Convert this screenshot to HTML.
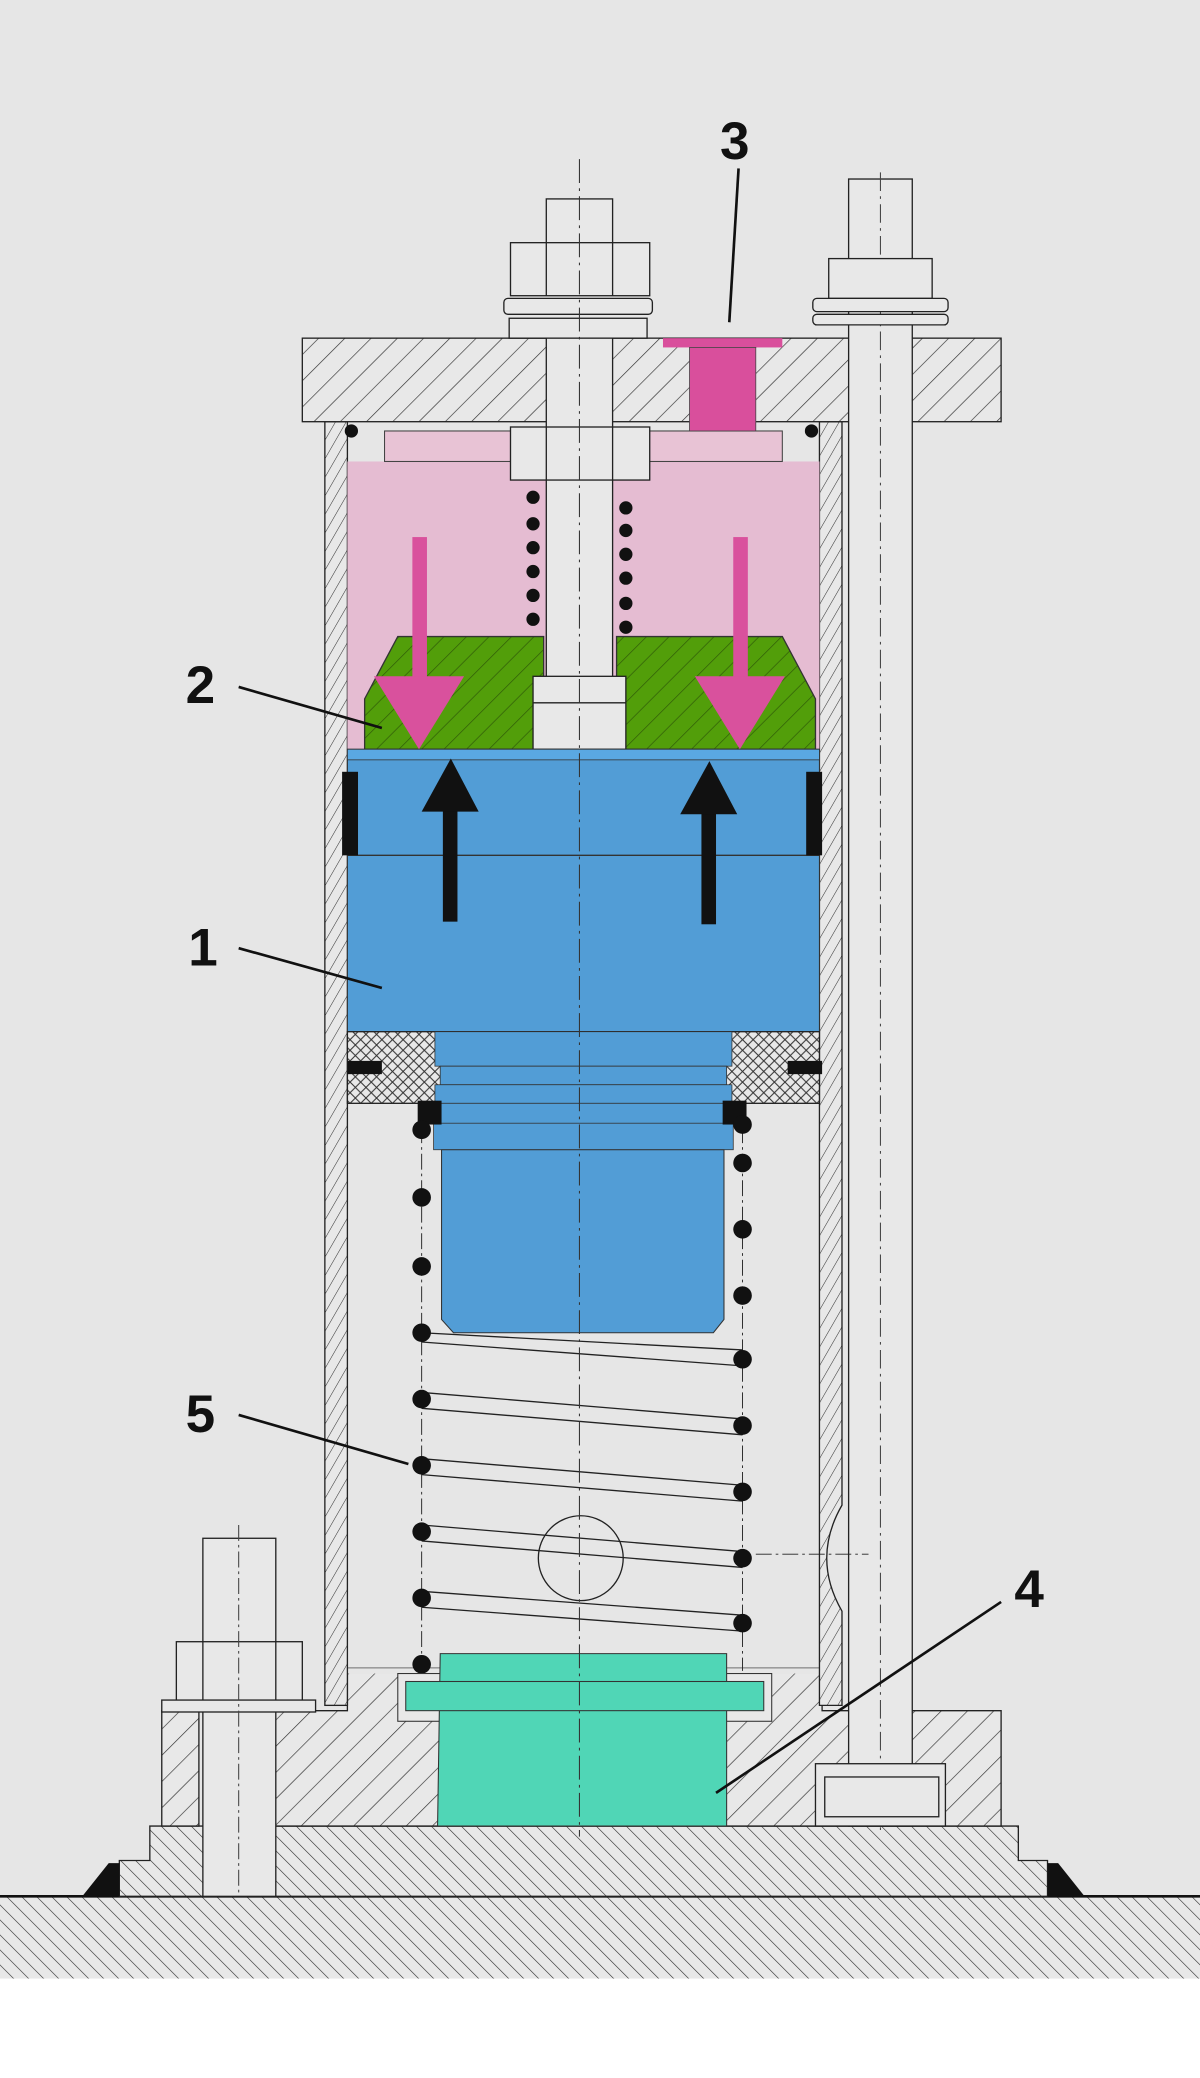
<!DOCTYPE html>
<html><head><meta charset="utf-8"><style>
html,body{margin:0;padding:0;background:#fff;}
svg{display:block;}
text{font-family:"Liberation Sans",sans-serif;font-weight:bold;font-size:40px;fill:#111;}
</style></head><body>
<svg width="1200" height="2078" viewBox="0 0 905 1567" preserveAspectRatio="none" xmlns="http://www.w3.org/2000/svg">
<defs>
<pattern id="h" width="14" height="14" patternUnits="userSpaceOnUse" patternTransform="rotate(45)"><rect width="14" height="14" fill="#e8e8e8"/><line x1="0" y1="0" x2="0" y2="14" stroke="#333" stroke-width="1"/></pattern>
<pattern id="h2" width="8" height="8" patternUnits="userSpaceOnUse" patternTransform="rotate(-45)"><rect width="8" height="8" fill="#e8e8e8"/><line x1="0" y1="0" x2="0" y2="8" stroke="#333" stroke-width="0.9"/></pattern>
<pattern id="hs" width="7" height="7" patternUnits="userSpaceOnUse" patternTransform="rotate(30)"><rect width="7" height="7" fill="#e8e8e8"/><line x1="0" y1="0" x2="0" y2="7" stroke="#333" stroke-width="0.8"/></pattern>
<pattern id="hg" width="12" height="12" patternUnits="userSpaceOnUse" patternTransform="rotate(45)"><rect width="12" height="12" fill="#529e0a"/><line x1="0" y1="0" x2="0" y2="12" stroke="#2f5a08" stroke-width="1"/></pattern>
<pattern id="hx" width="8" height="8" patternUnits="userSpaceOnUse"><rect width="8" height="8" fill="#e8e8e8"/><path d="M0 0L8 8M8 0L0 8" stroke="#333" stroke-width="0.8"/></pattern>
</defs>
<rect width="905" height="1492" fill="#e6e6e6"/>
<rect y="1492" width="905" height="75" fill="#fff"/>
<!-- ground -->
<rect x="0" y="1430" width="905" height="62" fill="url(#h2)"/>
<line x1="0" y1="1430" x2="905" y2="1430" stroke="#111" stroke-width="2"/>
<!-- base plate -->
<path d="M90 1430V1403H113V1377H768V1403H790V1430Z" fill="url(#h2)" stroke="#222"/>
<polygon points="62,1430 82,1405 90,1405 90,1430" fill="#111"/>
<polygon points="818,1430 798,1405 790,1405 790,1430" fill="#111"/>
<!-- bottom block -->
<path d="M165 1377V1290H262V1258H620V1290H755V1377Z" fill="url(#h)" stroke="#222"/>
<rect x="262" y="1258" width="358" height="4" fill="#e6e6e6"/>
<!-- left bolt -->
<rect x="122" y="1290" width="28" height="87" fill="url(#h)" stroke="#222"/>
<rect x="153" y="1160" width="55" height="270" fill="#e8e8e8" stroke="#222"/>
<rect x="133" y="1238" width="95" height="45" fill="#e8e8e8" stroke="#222"/>
<line x1="153" y1="1238" x2="153" y2="1283" stroke="#222"/><line x1="208" y1="1238" x2="208" y2="1283" stroke="#222"/>
<rect x="122" y="1282" width="116" height="9" fill="#e8e8e8" stroke="#222"/>
<line x1="180" y1="1150" x2="180" y2="1430" stroke="#444" stroke-dasharray="12,3,2,3" stroke-width="0.8"/>
<!-- cylinder walls -->
<rect x="245" y="318" width="17" height="968" fill="url(#hs)" stroke="#222"/>
<path d="M618 318H635V1135Q612 1175 635 1215V1286H618Z" fill="url(#hs)" stroke="#222"/>
<!-- top plate -->
<rect x="228" y="255" width="527" height="63" fill="url(#h)" stroke="#222"/>
<rect x="613" y="230" width="4" height="25" fill="none"/>
<!-- pink chamber -->
<rect x="262" y="348" width="356" height="217" fill="#e5bcd2"/>
<rect x="290" y="325" width="300" height="23" fill="#e8c3d5" stroke="#444" stroke-width="0.8"/>
<circle cx="265" cy="325" r="5" fill="#111"/><circle cx="612" cy="325" r="5" fill="#111"/>
<!-- port 3 -->
<rect x="500" y="255" width="90" height="7" fill="#d94f9c"/>
<rect x="520" y="262" width="50" height="63" fill="#d94f9c" stroke="#444" stroke-width="0.6"/>
<!-- right tie rod -->
<rect x="640" y="135" width="48" height="1242" fill="#e8e8e8" stroke="#222"/>
<line x1="664" y1="130" x2="664" y2="1380" stroke="#444" stroke-dasharray="14,4,2,4" stroke-width="0.8"/>
<rect x="625" y="195" width="78" height="30" fill="#e8e8e8" stroke="#222"/>
<rect x="613" y="225" width="102" height="10" rx="3" fill="#e8e8e8" stroke="#222"/>
<rect x="613" y="237" width="102" height="8" rx="3" fill="#e8e8e8" stroke="#222"/>
<rect x="615" y="1330" width="98" height="47" fill="#e8e8e8" stroke="#222"/>
<rect x="622" y="1340" width="86" height="30" fill="#e8e8e8" stroke="#222"/>
<!-- center stem -->
<rect x="412" y="150" width="50" height="35" fill="#e8e8e8" stroke="#222"/>
<rect x="385" y="183" width="105" height="40" fill="#e8e8e8" stroke="#222"/>
<line x1="412" y1="183" x2="412" y2="223" stroke="#222"/><line x1="462" y1="183" x2="462" y2="223" stroke="#222"/>
<rect x="380" y="225" width="112" height="12" rx="3" fill="#e8e8e8" stroke="#222"/>
<rect x="384" y="240" width="104" height="15" fill="#e8e8e8" stroke="#222"/>
<rect x="412" y="255" width="50" height="260" fill="#e8e8e8" stroke="#222"/>
<rect x="385" y="322" width="105" height="40" fill="#e8e8e8" stroke="#222"/>
<line x1="412" y1="322" x2="412" y2="362" stroke="#222"/><line x1="462" y1="322" x2="462" y2="362" stroke="#222"/>
<!-- small spring dots -->
<g fill="#111">
<circle cx="402" cy="375" r="5"/><circle cx="402" cy="395" r="5"/><circle cx="402" cy="413" r="5"/><circle cx="402" cy="431" r="5"/><circle cx="402" cy="449" r="5"/><circle cx="402" cy="467" r="5"/>
<circle cx="472" cy="383" r="5"/><circle cx="472" cy="400" r="5"/><circle cx="472" cy="418" r="5"/><circle cx="472" cy="436" r="5"/><circle cx="472" cy="455" r="5"/><circle cx="472" cy="473" r="5"/>
</g>
<!-- green piston -->
<path d="M275 565V527L300 480H410V565Z" fill="url(#hg)" stroke="#333"/>
<path d="M465 565V480H590L615 527V565Z" fill="url(#hg)" stroke="#333"/>
<rect x="402" y="510" width="70" height="55" fill="#e8e8e8" stroke="#222"/>
<line x1="402" y1="530" x2="472" y2="530" stroke="#222"/>
<!-- blue piston -->
<rect x="262" y="565" width="356" height="213" fill="#529dd6" stroke="#333" stroke-width="0.8"/>
<rect x="262" y="565" width="356" height="8" fill="#5aa8e2" stroke="#333" stroke-width="0.6"/>
<line x1="262" y1="645" x2="618" y2="645" stroke="#333"/>
<rect x="258" y="582" width="12" height="63" fill="#111"/><rect x="608" y="582" width="12" height="63" fill="#111"/>
<!-- gland -->
<rect x="262" y="778" width="356" height="54" fill="url(#hx)" stroke="#222"/>
<rect x="262" y="800" width="26" height="10" fill="#111"/><rect x="594" y="800" width="26" height="10" fill="#111"/>
<rect x="328" y="778" width="224" height="26" fill="#529dd6" stroke="#333" stroke-width="0.6"/>
<rect x="332" y="804" width="216" height="14" fill="#529dd6" stroke="#333" stroke-width="0.6"/>
<rect x="328" y="818" width="224" height="14" fill="#529dd6" stroke="#333" stroke-width="0.6"/>
<rect x="330" y="832" width="218" height="18" fill="#529dd6" stroke="#333" stroke-width="0.6"/>
<rect x="327" y="847" width="226" height="20" fill="#529dd6" stroke="#333" stroke-width="0.6"/>
<path d="M333 867H546V995L538 1005H342L333 995Z" fill="#529dd6" stroke="#333" stroke-width="0.8"/>
<rect x="315" y="830" width="18" height="18" fill="#111"/><rect x="545" y="830" width="18" height="18" fill="#111"/>
<!-- main spring -->
<g stroke="#222" stroke-width="1" fill="none">
<path d="M318 1005L560 1018M318 1012L560 1030"/>
<path d="M318 1050L560 1070M318 1062L560 1082"/>
<path d="M318 1100L560 1120M318 1112L560 1132"/>
<path d="M318 1150L560 1170M318 1162L560 1182"/>
<path d="M318 1200L560 1218M318 1212L560 1230"/>
<line x1="318" y1="850" x2="318" y2="1260" stroke-dasharray="12,3,2,3" stroke-width="0.7"/>
<line x1="560" y1="850" x2="560" y2="1260" stroke-dasharray="12,3,2,3" stroke-width="0.7"/>
<circle cx="438" cy="1175" r="32"/>
<line x1="570" y1="1172" x2="655" y2="1172" stroke-dasharray="12,3,2,3" stroke-width="0.7"/>
</g>
<g fill="#111">
<circle cx="318" cy="852" r="7"/><circle cx="318" cy="903" r="7"/><circle cx="318" cy="955" r="7"/><circle cx="318" cy="1005" r="7"/><circle cx="318" cy="1055" r="7"/><circle cx="318" cy="1105" r="7"/><circle cx="318" cy="1155" r="7"/><circle cx="318" cy="1205" r="7"/><circle cx="318" cy="1255" r="7"/>
<circle cx="560" cy="848" r="7"/><circle cx="560" cy="877" r="7"/><circle cx="560" cy="927" r="7"/><circle cx="560" cy="977" r="7"/><circle cx="560" cy="1025" r="7"/><circle cx="560" cy="1075" r="7"/><circle cx="560" cy="1125" r="7"/><circle cx="560" cy="1175" r="7"/><circle cx="560" cy="1224" r="7"/>
</g>
<!-- teal insert -->
<rect x="300" y="1262" width="282" height="36" fill="#e8e8e8" stroke="#333" stroke-width="0.8"/>
<path d="M332 1247H548V1377H330Z" fill="#50d6b6" stroke="#333" stroke-width="0.8"/>
<rect x="306" y="1268" width="270" height="22" fill="#50d6b6" stroke="#333" stroke-width="0.8"/>
<!-- center line -->
<line x1="437" y1="120" x2="437" y2="1385" stroke="#333" stroke-dasharray="18,4,2,4" stroke-width="0.8"/>
<!-- arrows -->
<g fill="#d9519d">
<rect x="311" y="405" width="11" height="110"/><polygon points="282,510 350,510 316,565"/>
<rect x="553" y="405" width="11" height="110"/><polygon points="524,510 592,510 558,565"/>
</g>
<g fill="#111">
<rect x="334" y="610" width="11" height="85"/><polygon points="318,612 361,612 340,572"/>
<rect x="529" y="610" width="11" height="87"/><polygon points="513,614 556,614 535,574"/>
</g>
<!-- labels -->
<g stroke="#111" stroke-width="2">
<line x1="557" y1="127" x2="550" y2="243"/>
<line x1="180" y1="518" x2="288" y2="549"/>
<line x1="180" y1="715" x2="288" y2="745"/>
<line x1="180" y1="1067" x2="308" y2="1104"/>
<line x1="755" y1="1208" x2="540" y2="1352"/>
</g>
<text x="543" y="120">3</text>
<text x="140" y="530">2</text>
<text x="142" y="728">1</text>
<text x="140" y="1080">5</text>
<text x="765" y="1212">4</text>
</svg>
</body></html>
